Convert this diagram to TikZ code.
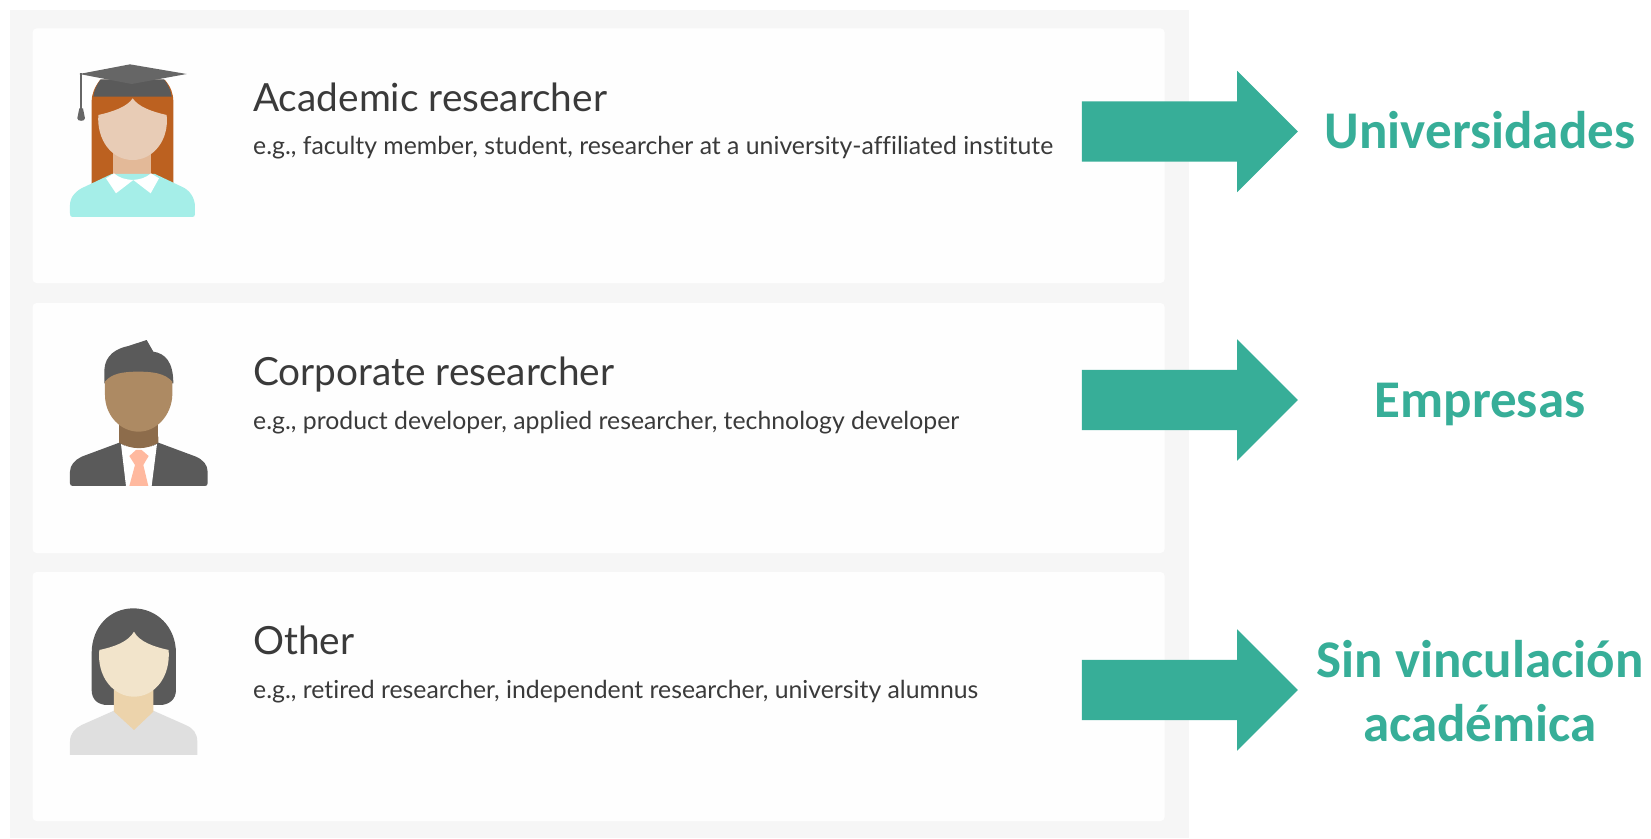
\documentclass[tikz,border=0pt]{standalone}
\usepackage{fontspec}
\usetikzlibrary{shapes.arrows}
\setmainfont{Lato}[Ligatures=NoCommon]
\newfontfamily\lblfont{Carlito}[BoldFont=Carlito Bold]
\definecolor{panel}{HTML}{F6F6F6}
\definecolor{cardwhite}{HTML}{FEFEFE}
\definecolor{teal}{HTML}{37AE98}
\definecolor{ink}{HTML}{3A3A3A}
\definecolor{hairgrey}{HTML}{5A5A5A}
\definecolor{capgrey}{HTML}{666666}
\definecolor{redhair}{HTML}{BC6120}
\definecolor{faceA}{HTML}{E8CCB6}
\definecolor{neckA}{HTML}{E3B998}
\definecolor{bodyA}{HTML}{A5EEE8}
\definecolor{faceB}{HTML}{AD8A63}
\definecolor{neckB}{HTML}{8D6C4B}
\definecolor{tieB}{HTML}{FFB99F}
\definecolor{faceC}{HTML}{F2E4CB}
\definecolor{neckC}{HTML}{ECD3AB}
\definecolor{bodyC}{HTML}{DFDFDF}
\tikzset{
  card/.style={fill=cardwhite,rounded corners=4},
  bigarrow/.style={single arrow,fill=teal,draw=none,inner sep=0pt,minimum height=216,minimum width=121,single arrow head extend=30.5,single arrow tip angle=90,anchor=center},
  title/.style={anchor=base west,inner sep=0,text=ink,font=\fontsize{38.8}{38.8}\selectfont},
  sub/.style={anchor=base west,inner sep=0,text=ink,font=\fontsize{24.8}{24.8}\selectfont},
  lbl/.style={anchor=base,inner sep=0,text=teal,font=\lblfont\bfseries\fontsize{53}{53}\selectfont},
  icon/.style={x=0.3333pt,y=-0.3333pt},
}
\begin{document}
\begin{tikzpicture}[x=1pt,y=-1pt]
\useasboundingbox (0,0) rectangle (1651,838);
\fill[white] (0,0) rectangle (1651,838);
\fill[panel] (9.5,9.5) rectangle (1189,838);
\fill[card] (32.6,28.4) rectangle (1164.6,283);
\fill[card] (32.6,303) rectangle (1164.6,553);
\fill[card] (32.6,572) rectangle (1164.6,821);
% academic icon
\begin{scope}[shift={(40,30)},icon]
\fill[redhair] (155,462) -- (155,215) .. controls (155,190) and (165,170) .. (180,150) -- (375,150) .. controls (392,170) and (400,190) .. (400,215) -- (400,462) -- cycle;
\fill[hairgrey] (160,200) .. controls (163,180) and (170,165) .. (182,148) -- (372,148) .. controls (385,165) and (392,180) .. (395,200) -- cycle;
\fill[capgrey] (118,132) -- (270,103) -- (440,132) -- (275,162) -- cycle;
\fill[capgrey] (120,130) rectangle (127,240);
\fill[capgrey] (118,235) -- (129,235) -- (135,265) .. controls (135,275) and (112,275) .. (112,265) -- cycle;
\fill[neckA] (220,365) rectangle (333,445);
\fill[faceA] (278,205) .. controls (262,230) and (220,245) .. (175,255) .. controls (170,330) and (215,390) .. (278,390) .. controls (340,390) and (388,330) .. (380,255) .. controls (335,245) and (295,230) .. (278,205) -- cycle;
\fill[bodyA] (90,550) -- (90,525) .. controls (90,500) and (110,480) .. (135,470) -- (215,432) -- (345,432) -- (425,470) .. controls (450,480) and (465,505) .. (465,530) -- (465,552) .. controls (465,558) and (462,561) .. (458,561) -- (97,561) .. controls (92,561) and (90,558) .. (90,550) -- cycle;
\fill[white] (198,445) -- (222,430) .. controls (240,445) and (255,448) .. (278,450) .. controls (300,448) and (315,445) .. (333,430) -- (357,445) -- (332,490) -- (280,450) -- (228,490) -- cycle;
\end{scope}
% corporate icon
\begin{scope}[shift={(40,320)},icon]
\fill[neckB] (238,310) rectangle (355,372);
\fill[hairgrey] (193,190) -- (193,150) .. controls (195,105) and (230,85) .. (265,78) -- (320,60) -- (340,95) .. controls (375,100) and (400,125) .. (400,190) -- cycle;
\fill[faceB] (195,185) .. controls (215,160) and (250,155) .. (295,155) .. controls (340,155) and (375,160) .. (397,185) -- (397,225) .. controls (395,285) and (350,335) .. (296,335) .. controls (240,335) and (195,285) .. (195,225) -- cycle;
\fill[hairgrey] (90,490) -- (90,455) .. controls (90,435) and (105,420) .. (125,410) -- (238,368) -- (297,400) -- (355,368) -- (468,410) .. controls (490,420) and (503,435) .. (503,455) -- (503,490) .. controls (503,495) and (500,498) .. (495,498) -- (98,498) .. controls (93,498) and (90,495) .. (90,490) -- cycle;
\fill[white] (243,372) .. controls (275,390) and (320,390) .. (351,372) -- (335,498) -- (258,498) -- cycle;
\fill[neckB] (238,368) .. controls (275,390) and (320,390) .. (355,368) -- (355,350) -- (238,350) -- cycle;
\fill[tieB] (268,408) -- (288,390) -- (305,390) -- (326,408) -- (310,435) -- (285,435) -- cycle;
\fill[tieB] (285,435) -- (310,435) -- (325,498) -- (268,498) -- cycle;
\end{scope}
% other icon
\begin{scope}[shift={(40,590)},icon]
\fill[hairgrey] (155,190) .. controls (155,110) and (210,55) .. (280,55) .. controls (350,55) and (408,110) .. (408,190) -- (408,300) .. controls (408,330) and (385,345) .. (360,345) -- (203,345) .. controls (175,345) and (155,330) .. (155,300) -- cycle;
\fill[bodyC] (90,495) -- (90,455) .. controls (90,430) and (105,415) .. (125,405) -- (222,362) -- (340,362) -- (437,405) .. controls (460,415) and (472,430) .. (472,455) -- (472,495) -- cycle;
\fill[neckC] (222,300) -- (340,300) -- (340,365) -- (282,420) -- (222,365) -- cycle;
\fill[faceC] (282,125) .. controls (265,155) and (225,170) .. (178,180) .. controls (170,260) and (220,320) .. (282,320) .. controls (345,320) and (392,260) .. (386,180) .. controls (340,170) and (298,155) .. (282,125) -- cycle;
\end{scope}
% text
\node[title] (t1) at (253,111) {Academic researcher};
\node[sub] (s1) at (253,154.5) {e.g., faculty member, student, researcher at a university-affiliated institute};
\node[title] (t2) at (253,385) {Corporate researcher};
\node[sub] (s2) at (253,429.5) {e.g., product developer, applied researcher, technology developer};
\node[title] (t3) at (253,654) {Other};
\node[sub] (s3) at (253,698.5) {e.g., retired researcher, independent researcher, university alumnus};
% arrows
\node[bigarrow] (a1) at (1174.7,131.5) {\rule{0pt}{60pt}};
\node[bigarrow] (a2) at (1174.7,400) {\rule{0pt}{60pt}};
\node[bigarrow] (a3) at (1174.7,690) {\rule{0pt}{60pt}};
% labels
\node[lbl] (l1) at (1480,148.5) {Universidades};
\node[lbl] (l2) at (1480,417) {Empresas};
\node[lbl] (l3) at (1480,677) {Sin vinculación};
\node[lbl] (l4) at (1480,741) {académica};
\end{tikzpicture}
\end{document}
